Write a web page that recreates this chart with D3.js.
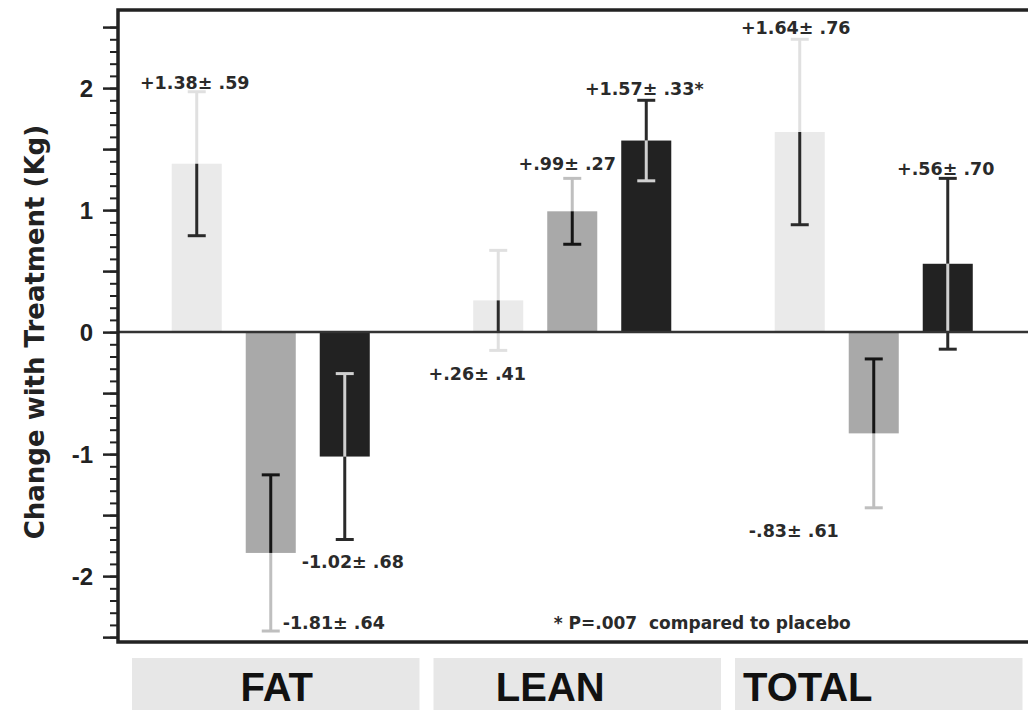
<!DOCTYPE html>
<html>
<head>
<meta charset="utf-8">
<script src="https://cdn.jsdelivr.net/npm/d3@7/dist/d3.min.js"></script>
<style>
  html, body { margin: 0; padding: 0; background: #ffffff; }
  svg { display: block; }
</style>
</head>
<body>
<svg id="chart" width="1028" height="710"></svg>
<script>
// ---------------- data ----------------
const groups = ["FAT", "LEAN", "TOTAL"];
const series = ["Placebo", "Treatment A", "Treatment B"];
const placeboMean = [1.38, 0.26, 1.64];
const placeboSE   = [0.59, 0.41, 0.76];
const treatAMean  = [-1.81, 0.99, -0.83];
const treatASE    = [0.64, 0.27, 0.61];
const treatBMean  = [-1.02, 1.57, 0.56];
const treatBSE    = [0.68, 0.33, 0.70];
const placeboLabels = ["+1.38\u00b1 .59", "+.26\u00b1 .41", "+1.64\u00b1 .76"];
const treatALabels  = ["-1.81\u00b1 .64", "+.99\u00b1 .27", "-.83\u00b1 .61"];
const treatBLabels  = ["-1.02\u00b1 .68", "+1.57\u00b1 .33*", "+.56\u00b1 .70"];
const yMajorTicks = [-2.5, -2, -1.5, -1, -0.5, 0, 0.5, 1, 1.5, 2, 2.5];
const yMinorTicks = d3.range(-25, 26).map(i => i / 10);
const yTitle = "Change with Treatment (Kg)";
const footnote = "* P=.007  compared to placebo";

// ---------------- layout / style ----------------
const svg = d3.select("#chart");
const frame = { left: 118, top: 10, bottom: 642, right: 1040 };
const barFill = ["#eaeaea", "#a9a9a9", "#222222"];
const whiskerOut = ["#e0e0e0", "#bfbfbf", "#2a2a2a"];
const whiskerIn = ["#2a2a2a", "#151515", "#d0d0d0"];
// label placement: [dx from bar centre (px), baseline in data units]
const labelPlace = [
  [[-2, 1.99], [-21, -0.39], [-4, 2.44]],
  [[63, -2.43], [-5, 1.33], [-80, -1.68]],
  [[8, -1.93], [-2, 1.94], [-2, 1.29]]
];
const catDx = [6, -22, -66];

const means = [placeboMean, treatAMean, treatBMean];
const ses = [placeboSE, treatASE, treatBSE];
const labels = [placeboLabels, treatALabels, treatBLabels];

const bars = [];
series.forEach((s, si) => {
  groups.forEach((g, gi) => {
    bars.push({ group: g, series: s, si, gi, v: means[si][gi], e: ses[si][gi], label: labels[si][gi] });
  });
});

// ---------------- scales ----------------
const y = d3.scaleLinear().domain([-2.54, 2.64]).range([frame.bottom, frame.top]);
const x0 = d3.scaleBand().domain(groups).range([120, 1024.5]).padding(0);
const x1 = d3.scaleBand().domain(series).range([0, x0.bandwidth()])
  .paddingInner(0.324).paddingOuter(0.699);
const cx = d => x0(d.group) + x1(d.series) + x1.bandwidth() / 2;

// ---------------- category label boxes ----------------
svg.append("g").selectAll("rect").data(groups).join("rect")
  .attr("x", g => x0(g) + 12)
  .attr("y", 658)
  .attr("width", x0.bandwidth() - 14)
  .attr("height", 60)
  .attr("fill", "#e7e7e7");

svg.append("g").selectAll("text").data(groups).join("text")
  .attr("x", (g, i) => x0(g) + x0.bandwidth() / 2 + catDx[i])
  .attr("y", 701)
  .attr("text-anchor", "middle")
  .attr("font-family", "'Liberation Sans', Arial, sans-serif")
  .attr("font-weight", "bold")
  .attr("font-size", 40)
  .attr("fill", "#111")
  .text(g => g);

// ---------------- bars ----------------
svg.append("g").selectAll("rect").data(bars).join("rect")
  .attr("x", d => x0(d.group) + x1(d.series))
  .attr("width", x1.bandwidth())
  .attr("y", d => y(Math.max(0, d.v)))
  .attr("height", d => Math.abs(y(d.v) - y(0)))
  .attr("fill", d => barFill[d.si]);

// ---------------- error bars ----------------
const eg = svg.append("g").attr("stroke-width", 3);
bars.forEach(d => {
  const s = Math.sign(d.v);
  const X = cx(d);
  const outerEnd = d.v + s * d.e;
  const innerEnd = d.v - s * d.e;
  const crosses = s * innerEnd < 0;
  const insideEnd = crosses ? 0 : innerEnd;
  const capW = 9;
  eg.append("line").attr("x1", X).attr("x2", X).attr("y1", y(d.v)).attr("y2", y(outerEnd))
    .attr("stroke", whiskerOut[d.si]);
  eg.append("line").attr("x1", X - capW).attr("x2", X + capW).attr("y1", y(outerEnd)).attr("y2", y(outerEnd))
    .attr("stroke", whiskerOut[d.si]);
  eg.append("line").attr("x1", X).attr("x2", X).attr("y1", y(d.v)).attr("y2", y(insideEnd))
    .attr("stroke", whiskerIn[d.si]);
  if (crosses) {
    eg.append("line").attr("x1", X).attr("x2", X).attr("y1", y(0)).attr("y2", y(innerEnd))
      .attr("stroke", whiskerOut[d.si]);
  }
  eg.append("line").attr("x1", X - capW).attr("x2", X + capW).attr("y1", y(innerEnd)).attr("y2", y(innerEnd))
    .attr("stroke", crosses ? whiskerOut[d.si] : whiskerIn[d.si]);
});

// ---------------- zero line & frame ----------------
svg.append("line").attr("x1", frame.left).attr("x2", frame.right)
  .attr("y1", y(0)).attr("y2", y(0)).attr("stroke", "#333").attr("stroke-width", 2.5);
svg.append("path")
  .attr("d", `M${frame.right},${frame.top}H${frame.left}V${frame.bottom}H${frame.right}`)
  .attr("fill", "none").attr("stroke", "#222").attr("stroke-width", 3.5);

// ---------------- axes ----------------
const minorAxis = d3.axisLeft(y).tickValues(yMinorTicks).tickSize(8).tickFormat("");
const gMinor = svg.append("g").attr("transform", `translate(${frame.left},0)`).call(minorAxis);
gMinor.select(".domain").remove();
gMinor.selectAll(".tick line").attr("stroke", "#222").attr("stroke-width", 2);

const majorAxis = d3.axisLeft(y).tickValues(yMajorTicks).tickSize(15).tickPadding(10)
  .tickFormat(d => Number.isInteger(d) ? String(d) : "");
const gMajor = svg.append("g").attr("transform", `translate(${frame.left},0)`).call(majorAxis);
gMajor.select(".domain").remove();
gMajor.selectAll(".tick line").attr("stroke", "#222").attr("stroke-width", 2.5);
gMajor.selectAll(".tick text")
  .attr("font-family", "'Liberation Sans', Arial, sans-serif")
  .attr("font-weight", "bold")
  .attr("font-size", 24)
  .attr("fill", "#222")
  .attr("dy", "0.36em");

// y title
svg.append("text")
  .attr("transform", `translate(44,${y(0)}) rotate(-90)`)
  .attr("text-anchor", "middle")
  .attr("font-family", "'DejaVu Sans', sans-serif")
  .attr("font-weight", "bold")
  .attr("font-size", 26)
  .attr("fill", "#222")
  .text(yTitle);

// ---------------- value labels ----------------
svg.append("g").selectAll("text").data(bars).join("text")
  .attr("x", d => cx(d) + labelPlace[d.si][d.gi][0])
  .attr("y", d => y(labelPlace[d.si][d.gi][1]))
  .attr("text-anchor", "middle")
  .attr("font-family", "'DejaVu Sans', sans-serif")
  .attr("font-weight", "bold")
  .attr("font-size", 17.5)
  .attr("fill", "#2a2a2a")
  .text(d => d.label);

svg.append("text")
  .attr("x", x0("LEAN") + x0.bandwidth() / 2 + 130)
  .attr("y", y(-2.43))
  .attr("text-anchor", "middle")
  .attr("font-family", "'DejaVu Sans', sans-serif")
  .attr("font-weight", "bold")
  .attr("font-size", 17)
  .attr("fill", "#2a2a2a")
  .style("white-space", "pre")
  .text(footnote);
</script>
</body>
</html>
